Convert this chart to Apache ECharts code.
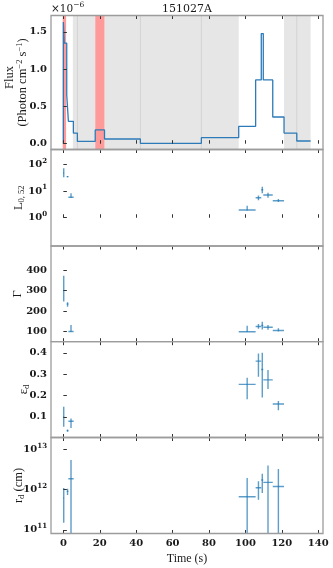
<!DOCTYPE html>
<html>
<head>
<meta charset="utf-8">
<script src="https://cdn.jsdelivr.net/npm/echarts@6/dist/echarts.min.js"></script>
<style>html,body{margin:0;background:#fff}#c{width:333px;height:568px}</style>
</head>
<body>
<div id="c"></div>
<script>
// 151027A light curve + fitted parameters
const X_TICKS = [0, 20, 40, 60, 80, 100, 120, 140]

// flux light curve: bin edges (s) and flux per bin (x1e-6 photon cm^-2 s^-1)
const FLUX_EDGES = [0, 0.5, 1.85, 2.76, 5.5, 7.7, 17.5, 22.6, 42.3, 75.8, 96.3, 105.6, 108.7, 109.8, 115.0, 121.2, 128.2, 135.8]
const FLUX_VALS = [1.634, 1.348, 0.654, 0.300, 0.143, 0.031, 0.184, 0.063, 0.005, 0.081, 0.233, 0.855, 1.478, 0.855, 0.358, 0.143, 0.036]
const FLUX_TICKS = [0, 0.5, 1.0, 1.5]

// shaded intervals [start, end] (s)
const GREY_SPANS = [[5.2, 7.7], [7.7, 17.5], [22.6, 42.3], [42.3, 75.8], [75.8, 96.3], [121.2, 128.2], [128.2, 135.8]]
const RED_SPANS = [[-0.35, 1.5], [17.5, 22.6]]

// fitted points: bin centre and half width (s)
const T = [0.2, 2.3, 4.2, 100.95, 107.15, 109.25, 112.4, 118.1]
const T_ERR = [0.2, 0.45, 1.45, 4.65, 1.55, 0.55, 2.6, 3.1]

// L_{0,52}
const L = [48, 35, 5.9, 1.94, 5.6, 11.2, 7.1, 4.35]
const L_LO = [33, 33, 5.6, 1.85, 4.5, 8.3, 5.6, 3.9]
const L_HI = [72, 37, 8.3, 2.8, 6.9, 14.5, 8.7, 5.1]

// Gamma
const G = [300, 234, 100, 99, 124, 130, 121, 105]
const G_LO = [246, 221, 99, 98, 113, 110, 108, 100]
const G_HI = [372, 243, 132, 128, 136, 147, 132, 116]

// epsilon_d
const E = [0.1, 0.035, 0.079, 0.252, 0.361, 0.322, 0.273, 0.16]
const E_LO = [0.053, 0.03, 0.048, 0.182, 0.288, 0.191, 0.23, 0.131]
const E_HI = [0.147, 0.041, 0.092, 0.283, 0.397, 0.4, 0.319, 0.174]

// r_d (cm)
const R = [6.2e11, 9.1e11, 1.87e12, 6.7e11, 1.12e12, 1.75e12, 1.52e12, 1.2e12]
const R_LO = [1.5e11, 7.4e11, 5e10, 5e10, 5.6e11, 8.3e11, 5e10, 5e10]
const R_HI = [1.1e12, 1.05e12, 5.5e12, 1.95e12, 1.62e12, 2.5e12, 4e12, 3.3e12]

const X_MIN = -6.79, X_MAX = 142.6
const LEFT = 51, WIDTH = 272
const PANELS = [
  { top: 15.5, height: 134 },
  { top: 149.5, height: 96.5 },
  { top: 246, height: 95.7 },
  { top: 341.7, height: 95.8 },
  { top: 437.5, height: 96 },
]
const C = {
  line: '#2c7bb8', err: 'rgba(31,119,180,0.72)', grey: '#e6e6e6', greyEdge: '#d2d2d2',
  red: '#ff9a9a', frame: '#9c9c9c', tick: '#333', text: '#1a1a1a',
}
const TICK_FONT = 'DejaVu Serif'
const NAME_FONT = 'Liberation Serif'

const log10 = v => Math.log10(v)
const ident = v => v

// step data (matplotlib where='post'): rise from 0 at first edge, hold last value to final edge
const stepData = [[FLUX_EDGES[0], 0]]
FLUX_VALS.forEach((v, i) => stepData.push([FLUX_EDGES[i], v]))
stepData.push([FLUX_EDGES[FLUX_EDGES.length - 1], FLUX_VALS[FLUX_VALS.length - 1]])

// darker seams where two grey spans touch
const seams = GREY_SPANS.slice(1).filter((s, i) => s[0] === GREY_SPANS[i][1]).map(s => s[0])

const errRows = (y, lo, hi, f) => T.map((t, i) => [t, f(y[i]), T_ERR[i], f(lo[i]), f(hi[i])])

function renderErr(params, api) {
  const t = api.value(0), y = api.value(1), xe = api.value(2)
  const a = api.coord([t - xe, y]), b = api.coord([t + xe, y])
  const c = api.coord([t, api.value(3)]), d = api.coord([t, api.value(4)])
  const style = { stroke: C.err, lineWidth: 1.4 }
  return {
    type: 'group', children: [
      { type: 'line', shape: { x1: a[0], y1: a[1], x2: b[0], y2: b[1] }, style },
      { type: 'line', shape: { x1: c[0], y1: c[1], x2: d[0], y2: d[1] }, style },
    ],
  }
}

function spanRender(color) {
  return (params, api) => {
    const cs = params.coordSys
    const x1 = api.coord([api.value(0), 0])[0], x2 = api.coord([api.value(1), 0])[0]
    return { type: 'rect', shape: { x: x1, y: cs.y, width: x2 - x1, height: cs.height }, style: { fill: color } }
  }
}

const sup = { fontFamily: TICK_FONT, fontWeight: 'bold', fontSize: 7, color: C.text, padding: [0, 0, 7, 0] }
const tickLabel = { fontFamily: TICK_FONT, fontWeight: 'bold', fontSize: 10, color: C.text }
const nameRich = {
  n: { fontFamily: NAME_FONT, fontSize: 12.5, color: C.text },
  sp: { fontFamily: NAME_FONT, fontSize: 8.5, color: C.text, padding: [0, 0, 6, 0] },
  sb: { fontFamily: NAME_FONT, fontSize: 8.5, color: C.text, padding: [6, 0, 0, 0] },
}

// first line of the flux label ("Flux") is drawn as a separate text below
const Y_AXES = [
  { min: -0.078, max: 1.72, ticks: FLUX_TICKS, fmt: v => v.toFixed(1), gap: 21,
    name: '{n|(Photon cm}{sp|−2}{n| s}{sp|−1}{n|)}' },
  { min: -1.06, max: 2.56, ticks: [0, 1, 2], fmt: v => '10{s|' + v + '}', gap: 25, name: '{n|L}{sb|0, 52}' },
  { min: 50, max: 518, ticks: [100, 200, 300, 400], fmt: v => String(v), gap: 27, name: '{n|Γ}' },
  { min: 0.003, max: 0.452, ticks: [0.1, 0.2, 0.3, 0.4], fmt: v => v.toFixed(1), gap: 20, name: '{n|ε}{sb|d}' },
  { min: 10.91, max: 13.3, ticks: [11, 12, 13], fmt: v => '10{s|' + v + '}', gap: 25, name: '{n|r}{sb|d}{n| (cm)}' },
]

const grid = PANELS.map(p => ({
  left: LEFT, width: WIDTH, top: p.top, height: p.height,
  containLabel: false, outerBoundsMode: 'none',
  show: true, borderColor: C.frame, borderWidth: 1.3, backgroundColor: 'transparent', z: 10,
}))

const xAxis = []
PANELS.forEach((p, i) => {
  const base = {
    gridIndex: i, type: 'value', min: X_MIN, max: X_MAX, z: 5,
    axisLine: { show: false }, splitLine: { show: false },
    axisTick: { inside: true, length: 3.5, customValues: X_TICKS, lineStyle: { color: C.tick, width: 1 } },
  }
  xAxis.push(Object.assign({}, base, {
    position: 'bottom',
    axisLabel: { show: i === PANELS.length - 1, customValues: X_TICKS, margin: 5, ...tickLabel },
    name: i === PANELS.length - 1 ? 'Time (s)' : '', nameLocation: 'middle', nameGap: 19, nameMoveOverlap: false,
    nameTextStyle: { fontFamily: NAME_FONT, fontSize: 12, color: C.text },
  }))
  xAxis.push(Object.assign({}, base, { position: 'top', axisLabel: { show: false } }))
})

const yAxis = Y_AXES.map((a, i) => ({
  gridIndex: i, type: 'value', min: a.min, max: a.max, z: 5,
  axisLine: { show: false }, splitLine: { show: false },
  axisTick: { inside: true, length: 3.5, customValues: a.ticks, lineStyle: { color: C.tick, width: 1 } },
  axisLabel: { customValues: a.ticks, formatter: a.fmt, margin: 4, ...tickLabel, rich: { s: sup } },
  name: a.name, nameLocation: 'middle', nameRotate: 90, nameGap: a.gap, nameMoveOverlap: false,
  nameTextStyle: { rich: nameRich },
}))

const series = [
  { type: 'custom', xAxisIndex: 0, yAxisIndex: 0, z: 1, silent: true, clip: true,
    renderItem: spanRender(C.grey), data: GREY_SPANS },
  { type: 'custom', xAxisIndex: 0, yAxisIndex: 0, z: 1, silent: true, clip: true,
    renderItem: (params, api) => {
      const cs = params.coordSys, x = api.coord([api.value(0), 0])[0]
      return { type: 'line', shape: { x1: x, y1: cs.y, x2: x, y2: cs.y + cs.height }, style: { stroke: C.greyEdge, lineWidth: 1 } }
    },
    data: seams.map(s => [s]) },
  { type: 'custom', xAxisIndex: 0, yAxisIndex: 0, z: 1, silent: true, clip: true,
    renderItem: spanRender(C.red), data: RED_SPANS },
  { type: 'line', xAxisIndex: 0, yAxisIndex: 0, z: 3, step: 'end', showSymbol: false, silent: true,
    lineStyle: { color: C.line, width: 1.3 }, data: stepData },
]
const PARAMS = [
  errRows(L, L_LO, L_HI, log10),
  errRows(G, G_LO, G_HI, ident),
  errRows(E, E_LO, E_HI, ident),
  errRows(R, R_LO, R_HI, log10),
]
PARAMS.forEach((rows, k) => series.push({
  type: 'custom', xAxisIndex: (k + 1) * 2, yAxisIndex: k + 1, z: 3, clip: true, silent: true,
  renderItem: renderErr, data: rows,
}))

const chart = echarts.init(document.getElementById('c'))
chart.setOption({
  animation: false,
  backgroundColor: '#fff',
  grid, xAxis, yAxis, series,
  graphic: [
    { type: 'text', x: LEFT + WIDTH / 2, y: 9, style: { text: '151027A', font: '11px "DejaVu Serif"', fill: C.text, align: 'center', verticalAlign: 'middle' } },
    { type: 'text', x: LEFT, y: 9, style: {
      text: '{a|×10}{b|−6}', fill: C.text, verticalAlign: 'middle',
      rich: { a: { fontFamily: TICK_FONT, fontSize: 10.5, color: C.text }, b: { fontFamily: TICK_FONT, fontSize: 7.5, color: C.text, padding: [0, 0, 7, 0] } },
    } },
    { type: 'text', x: 10, y: PANELS[0].top + PANELS[0].height / 2 - 5, rotation: Math.PI / 2, style: {
      text: 'Flux', font: '12.5px "Liberation Serif"', fill: C.text, align: 'center', verticalAlign: 'middle',
    } },
  ],
})
</script>
</body>
</html>
